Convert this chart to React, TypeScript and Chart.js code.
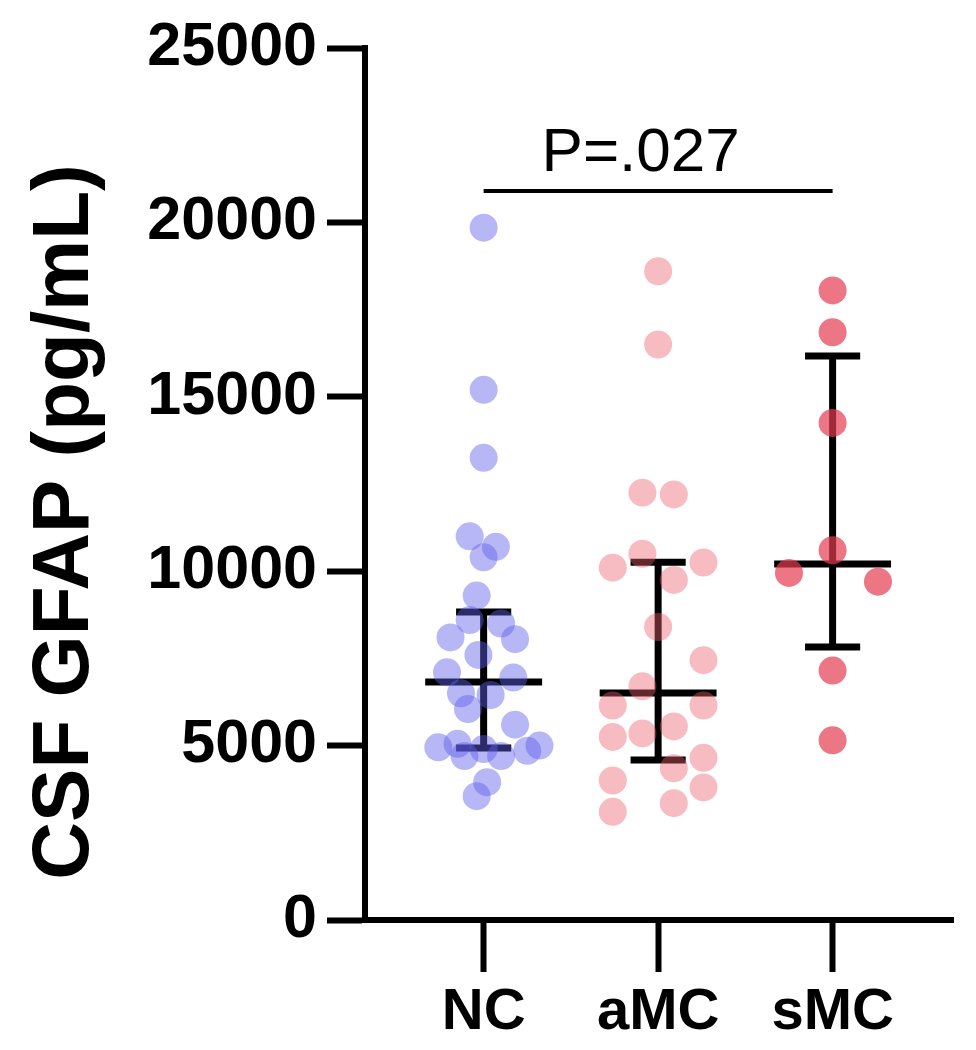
import { useEffect, useRef } from "react";
import { Chart, registerables } from "chart.js";

Chart.register(...registerables);

const FONT = "'Liberation Sans', Arial, Helvetica, sans-serif";

// Categories and axis
const groups = ["NC", "aMC", "sMC"];
const yTicks = [0, 5000, 10000, 15000, 20000, 25000];
const yTitle = "CSF GFAP (pg/mL)";

// Individual observations (value, horizontal jitter position in category units)
const ncValues = [19850, 15200, 13250, 11000, 10700, 10400, 9300, 8600, 8500, 8100, 8050, 7600, 7100, 6950, 6500, 6450, 6050, 5600, 4950, 5050, 4700, 4900, 4700, 4850, 5000, 3950, 3550];
const ncX = [1.0, 1.0, 1.0, 0.92, 1.07, 1.0, 0.96, 0.92, 1.1, 0.81, 1.18, 0.97, 0.79, 1.17, 0.87, 1.04, 0.91, 1.18, 0.74, 0.85, 0.89, 1.0, 1.1, 1.25, 1.32, 1.02, 0.96];

const amcValues = [18600, 16500, 12250, 12200, 10100, 10500, 10250, 9750, 8400, 7450, 6700, 6150, 6150, 5250, 5350, 5550, 4350, 4650, 4000, 3800, 3100, 3350];
const amcX = [2.0, 2.0, 1.91, 2.09, 1.74, 1.91, 2.26, 2.09, 2.0, 2.26, 1.91, 1.74, 2.26, 1.74, 1.91, 2.09, 2.09, 2.26, 1.74, 2.26, 1.74, 2.09];

const smcValues = [18050, 16850, 14250, 10600, 9950, 9700, 7150, 5150];
const smcX = [3.0, 3.0, 3.0, 3.0, 2.75, 3.26, 3.0, 3.0];

// Median and interquartile range per group
const medians = [6820, 6510, 10210];
const q1s = [4930, 4590, 7830];
const q3s = [8830, 10260, 16170];

// Significance annotation
const pLabel = "P=.027";
const pFrom = 1;
const pTo = 3;
const pLevel = 20900;
const pTextX = 1.9;

const dotColors = ["rgba(95, 95, 235, 0.45)", "rgba(236, 95, 110, 0.42)", "rgba(230, 60, 80, 0.7)"];

const CAP_HALF = 0.158;
const MED_HALF = 0.335;

function buildErrorBars() {
  const pts: any[] = [];
  groups.forEach((_, i) => {
    const c = i + 1;
    pts.push({ x: c, y: q1s[i] }, { x: c, y: q3s[i] }, { x: c, y: null });
    pts.push({ x: c - CAP_HALF, y: q3s[i] }, { x: c + CAP_HALF, y: q3s[i] }, { x: c, y: null });
    pts.push({ x: c - CAP_HALF, y: q1s[i] }, { x: c + CAP_HALF, y: q1s[i] }, { x: c, y: null });
    pts.push({ x: c - MED_HALF, y: medians[i] }, { x: c + MED_HALF, y: medians[i] }, { x: c, y: null });
  });
  return pts;
}

const annotPlugin = {
  id: "annot",
  afterDraw(chart: any) {
    const { ctx, scales } = chart;
    const x = scales.x;
    const y = scales.y;
    ctx.save();
    ctx.fillStyle = "#000";
    ctx.font = `400 62px ${FONT}`;
    ctx.textAlign = "center";
    ctx.textBaseline = "alphabetic";
    ctx.fillText(pLabel, x.getPixelForValue(pTextX), y.getPixelForValue(pLevel) - 20);
    ctx.restore();

    ctx.save();
    ctx.fillStyle = "#000";
    ctx.font = `700 80px ${FONT}`;
    ctx.textAlign = "center";
    ctx.textBaseline = "alphabetic";
    ctx.translate(88, 522);
    ctx.rotate(-Math.PI / 2);
    ctx.fillText(yTitle, 0, 0);
    ctx.restore();
  },
};

export default function App() {
  const ref = useRef<HTMLCanvasElement | null>(null);

  useEffect(() => {
    document.body.style.margin = "0";
    const canvas = ref.current;
    if (!canvas) return;
    const mk = (vals: number[], xs: number[]) => vals.map((v, i) => ({ x: xs[i], y: v }));

    const chart = new Chart(canvas, {
      type: "scatter",
      data: {
        datasets: [
          {
            type: "line",
            label: "IQR",
            data: buildErrorBars(),
            borderColor: "#000",
            borderWidth: 7,
            borderCapStyle: "butt",
            pointRadius: 0,
            spanGaps: false,
            fill: false,
            order: 3,
          } as any,
          {
            type: "line",
            label: "bracket",
            data: [
              { x: pFrom, y: pLevel },
              { x: pTo, y: pLevel },
            ],
            borderColor: "#000",
            borderWidth: 4,
            pointRadius: 0,
            fill: false,
            order: 3,
          } as any,
          {
            label: groups[0],
            data: mk(ncValues, ncX),
            backgroundColor: dotColors[0],
            borderWidth: 0,
            pointRadius: 14,
            order: 1,
          },
          {
            label: groups[1],
            data: mk(amcValues, amcX),
            backgroundColor: dotColors[1],
            borderWidth: 0,
            pointRadius: 14,
            order: 1,
          },
          {
            label: groups[2],
            data: mk(smcValues, smcX),
            backgroundColor: dotColors[2],
            borderWidth: 0,
            pointRadius: 14,
            order: 1,
          },
        ],
      },
      options: {
        animation: false,
        responsive: false,
        devicePixelRatio: 1,
        layout: { padding: { left: 0, top: 48, right: 23, bottom: 0 } },
        plugins: {
          legend: { display: false },
          tooltip: { enabled: false },
          title: { display: false },
        },
        scales: {
          x: {
            type: "linear",
            min: 0.32,
            max: 3.69,
            afterBuildTicks: (s: any) => {
              s.ticks = groups.map((_, i) => ({ value: i + 1 }));
            },
            afterFit: (s: any) => {
              s.height = 130;
            },
            ticks: {
              callback: (v: any) => groups[Math.round(Number(v)) - 1] ?? "",
              color: "#000",
              font: { family: FONT, size: 58, weight: "bold" },
              padding: 6,
              maxRotation: 0,
              minRotation: 0,
              autoSkip: false,
            },
            grid: {
              drawOnChartArea: false,
              drawTicks: true,
              tickLength: 52,
              tickColor: "#000",
              tickWidth: 6,
              color: "#000",
            },
            border: { display: true, color: "#000", width: 6 },
          },
          y: {
            type: "linear",
            min: 0,
            max: 25000,
            afterBuildTicks: (s: any) => {
              s.ticks = yTicks.map((v) => ({ value: v }));
            },
            afterFit: (s: any) => {
              s.width = 365;
            },
            ticks: {
              color: "#000",
              font: { family: FONT, size: 61, weight: "bold" },
              padding: 10,
              callback: (v: any) => String(v),
            },
            grid: {
              drawOnChartArea: false,
              drawTicks: true,
              tickLength: 38,
              tickColor: "#000",
              tickWidth: 6,
              color: "#000",
            },
            border: { display: true, color: "#000", width: 6 },
          },
        },
      } as any,
      plugins: [annotPlugin],
    });
    return () => chart.destroy();
  }, []);

  return (
    <div style={{ position: "absolute", left: 0, top: 0, width: 976, height: 1050, background: "#fff" }}>
      <canvas ref={ref} width={976} height={1050} style={{ display: "block" }} />
    </div>
  );
}
